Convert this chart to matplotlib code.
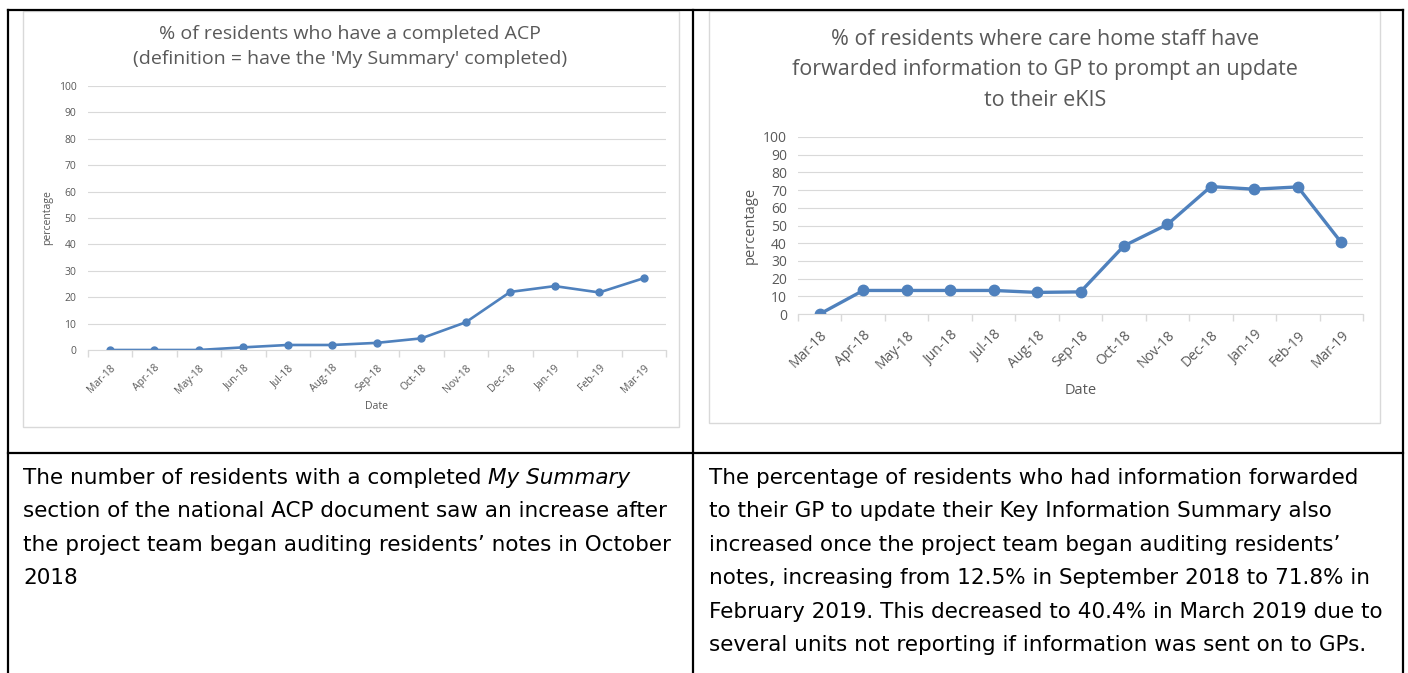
import matplotlib
matplotlib.use('Agg')
import matplotlib.pyplot as plt
from matplotlib.patches import Rectangle

# ---- data ----
months = ['Mar-18', 'Apr-18', 'May-18', 'Jun-18', 'Jul-18', 'Aug-18', 'Sep-18',
          'Oct-18', 'Nov-18', 'Dec-18', 'Jan-19', 'Feb-19', 'Mar-19']
acp_pct = [0, 0, 0, 1.0, 1.9, 1.9, 2.7, 4.4, 10.5, 22.0, 24.2, 21.8, 27.2]
gp_pct = [0, 13.3, 13.3, 13.3, 13.3, 12.2, 12.5, 38.5, 50.6, 72.0, 70.5, 71.8, 40.4]

left_title = "% of residents who have a completed ACP\n(definition = have the 'My Summary' completed)"
right_title = ("% of residents where care home staff have\n"
               "forwarded information to GP to prompt an update\nto their eKIS")

left_text = ["The number of residents with a completed ",
             "section of the national ACP document saw an increase after",
             "the project team began auditing residents\u2019 notes in October",
             "2018"]
left_italic = "My Summary"
right_text = ["The percentage of residents who had information forwarded",
              "to their GP to update their Key Information Summary also",
              "increased once the project team began auditing residents\u2019",
              "notes, increasing from 12.5% in September 2018 to 71.8% in",
              "February 2019. This decreased to 40.4% in March 2019 due to",
              "several units not reporting if information was sent on to GPs."]

W, H = 1408, 673
GRAY = '#595959'
GRID = '#d9d9d9'
BLUE = '#4f81bd'

plt.rcParams['font.family'] = 'Open Sans'

fig = plt.figure(figsize=(W / 100, H / 100), dpi=100)

# overlay in pixel coords for the table, boxes and text
ov = fig.add_axes([0, 0, 1, 1], zorder=0)
ov.set_xlim(0, W)
ov.set_ylim(H, 0)
ov.axis('off')


def px_axes(x0, x1, y0, y1):
    # axes from pixel box (y measured from top)
    return fig.add_axes([x0 / W, 1 - y1 / H, (x1 - x0) / W, (y1 - y0) / H], zorder=2)


def draw_chart(ax, vals, lw, ms, tick_fs, label_fs, xpad, date_pad):
    x = list(range(len(vals)))
    ax.plot(x, vals, color=BLUE, lw=lw, marker='o', ms=ms, solid_capstyle='round')
    ax.set_xlim(-0.5, len(vals) - 0.5)
    ax.set_ylim(0, 100)
    ax.set_yticks(range(0, 101, 10))
    ax.set_xticks(x)
    ax.set_xticklabels(months, rotation=45, ha='right', va='top',
                       rotation_mode='anchor', fontsize=tick_fs, color=GRAY)
    ax.set_xticks([i - 0.5 for i in range(len(vals) + 1)], minor=True)
    ax.tick_params(axis='x', which='major', length=0, pad=xpad)
    ax.tick_params(axis='x', which='minor', length=5, color=GRID, width=1)
    ax.tick_params(axis='y', length=0, labelsize=tick_fs, labelcolor=GRAY, pad=8)
    ax.grid(axis='y', color=GRID, lw=0.8)
    ax.set_axisbelow(True)
    for s in ['top', 'right', 'left']:
        ax.spines[s].set_visible(False)
    ax.spines['bottom'].set_color(GRID)
    ax.set_ylabel('percentage', fontsize=label_fs, color=GRAY)
    ax.set_xlabel('Date', fontsize=label_fs, color=GRAY, labelpad=date_pad)


# left chart
ov.add_patch(Rectangle((23, 11), 656, 416, fill=False, ec=GRID, lw=1))
axl = px_axes(87.5, 666, 86, 350)
draw_chart(axl, acp_pct, 1.9, 5, 7.5, 7.5, 9, 4)
ov.text(350, 46.5, left_title, ha='center', va='center', fontsize=14,
        color=GRAY, linespacing=1.5)

# right chart
ov.add_patch(Rectangle((709, 11), 671, 412, fill=False, ec=GRID, lw=1))
axr = px_axes(798, 1363, 137, 314)
draw_chart(axr, gp_pct, 2.4, 7.5, 10, 10.5, 10, 8)
ov.text(1045, 70, right_title, ha='center', va='center', fontsize=15.5,
        color=GRAY, linespacing=1.58)

# table lines
for xs, ys in [([8, 1403], [10, 10]), ([8, 1403], [453, 453]),
               ([8, 8], [10, H]), ([693, 693], [10, H]), ([1403, 1403], [10, H])]:
    ov.plot(xs, ys, color='black', lw=1.6, solid_capstyle='projecting')

# text cells
TXT_FONT = 'DejaVu Sans'
TXT_FS = 15.5
base0, step = 484, 33.4
for i, line in enumerate(left_text):
    t = ov.text(23, base0 + i * step, line, ha='left', va='baseline',
                fontsize=TXT_FS, family=TXT_FONT, color='black')
    if i == 0:
        fig.canvas.draw()
        bb = t.get_window_extent()
        ov.text(bb.x1, base0, left_italic, ha='left', va='baseline',
                fontsize=TXT_FS, family=TXT_FONT, style='italic', color='black')
for i, line in enumerate(right_text):
    ov.text(709, base0 + i * step, line, ha='left', va='baseline',
            fontsize=TXT_FS, family=TXT_FONT, color='black')

fig.savefig('out.png', dpi=100)
